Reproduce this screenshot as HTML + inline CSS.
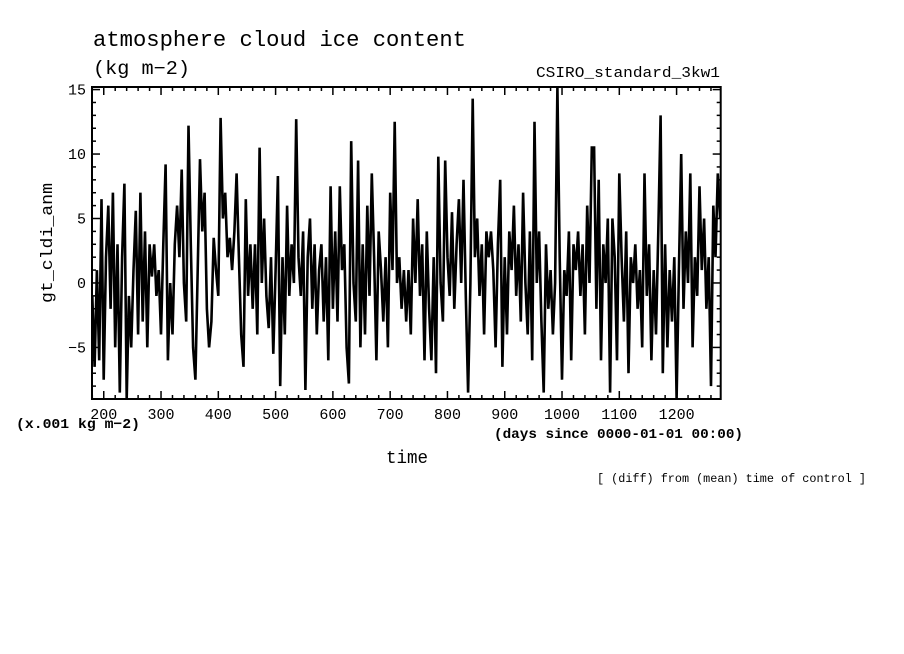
<!DOCTYPE html>
<html><head><meta charset="utf-8"><style>
html,body{margin:0;padding:0;background:#fff;}
svg{display:block;font-family:"Liberation Mono",monospace;}
</style></head><body>
<svg id="chart" width="904" height="654" viewBox="0 0 904 654" xmlns="http://www.w3.org/2000/svg">
<rect width="904" height="654" fill="#fff"/>
<text x="93" y="46" font-size="22" fill="#000" textLength="373" lengthAdjust="spacingAndGlyphs">atmosphere cloud ice content</text>
<text x="93" y="74" font-size="19" fill="#000" textLength="97" lengthAdjust="spacingAndGlyphs">(kg m−2)</text>
<text x="536" y="77" font-size="15" fill="#000" textLength="184" lengthAdjust="spacingAndGlyphs">CSIRO_standard_3kw1</text>
<text transform="translate(52,303) rotate(-90)" font-size="17" fill="#000" textLength="120" lengthAdjust="spacingAndGlyphs">gt_cldi_anm</text>
<text x="16" y="428" font-size="14" font-weight="bold" fill="#000" textLength="124" lengthAdjust="spacingAndGlyphs">(x.001 kg m−2)</text>
<text x="494" y="438" font-size="14" font-weight="bold" fill="#000" textLength="249" lengthAdjust="spacingAndGlyphs">(days since 0000-01-01 00:00)</text>
<text x="386" y="463" font-size="18" fill="#000" textLength="42" lengthAdjust="spacingAndGlyphs">time</text>
<text x="597" y="482" font-size="12" fill="#000" textLength="269" lengthAdjust="spacingAndGlyphs">[ (diff) from (mean) time of control ]</text>
<g id="ticks"></g>
<path id="series" fill="none" stroke="#000" stroke-width="2.6" stroke-linejoin="miter"/>
<rect x="92" y="87" width="628.7" height="312" fill="none" stroke="#000" stroke-width="2"/>
</svg>
<script>
const dayStart = 180;
const dayStep = 4;
const values = [-1,-6.5,1,-6,6.5,-7.5,2,6,-2,7,-5,3,-8.5,2,7.7,-9,-1,-5,1,5.6,-4,7,-3,4,-5,3,0.5,3,-1,1,
-4,3,9.2,-6,0,-4,3,6,2,8.8,0,-3,12.2,3,-5,-7.5,1,9.6,4,7,-2,-5,-3,3.5,1,-1,12.8,5,7,2,
3.5,1,4,8.5,2,-4,-6.5,6.5,-1,3,-2,3,-4,10.5,0,5,-1,-3.5,2,-5.5,1,8.3,-8,2,-4,6,-1,3,0,12.7,
2,-1,4,-8.3,2,5,-2,3,-4,1,3,-3,2,-6,7.5,-2,4,-3,7.5,1,3,-5,-7.8,11,0,-3,9.5,-5,3,-4,
6,-1,8.5,2,-6,4,1,-3,2,-5,7,1,12.5,0,2,-2,1,-3,1,-4,5,0,6.5,-1,3,-6,4,-2,-6,2,
-7,9.8,0,-3,9.5,2,-1,5.5,-2,3,6.5,0,8,-1,-8.5,0,14.3,2,5,-1,3,-4,4,2,4,1,-5,3,8,-6.5,
2,-4,4,1,6,-1,3,-3,7,0,-4,4,-6,12.5,0,4,-3,-8.5,3,-2,1,-4,0,15.2,2,-7.5,1,-1,4,-6,
3,1,4,-1,3,-4,6,0,10.5,10.5,-2,8,-6,3,0,5,-8.5,5,2,-6,8.5,2,-3,4,-7,2,0,3,-2,1,
-5,8.5,-1,3,-6,1,-4,4,13,-7,3,-5,1,-3,2,-9,1,10,-2,4,0,8.5,-5,2,-1,7.5,1,5,-2,2,
-8,6,2,8.5,5];
const yTickValues = [-5,0,5,10,15];
const yTickLabels = ["−5","0","5","10","15"];
const xTickValues = [200,300,400,500,600,700,800,900,1000,1100,1200];
const xTickLabels = ["200","300","400","500","600","700","800","900","1000","1100","1200"];

const X0=92, X1=720.7, Y0=87, Y1=399;
const xMin=179.5, xMax=1277, yMin=-9.0, yMax=15.2;
function xs(d){return X0+(d-xMin)/(xMax-xMin)*(X1-X0);}
function ys(v){return Y1-(v-yMin)/(yMax-yMin)*(Y1-Y0);}
const NS="http://www.w3.org/2000/svg";
let d="";
values.forEach((v,i)=>{
  let yy=Math.max(Y0,Math.min(Y1,ys(v)));
  d+=(i?"L":"M")+xs(dayStart+i*dayStep).toFixed(1)+","+yy.toFixed(1);
});
document.getElementById("series").setAttribute("d",d);
const g=document.getElementById("ticks");
function line(x1,y1,x2,y2){const l=document.createElementNS(NS,"line");l.setAttribute("x1",x1);l.setAttribute("y1",y1);l.setAttribute("x2",x2);l.setAttribute("y2",y2);l.setAttribute("stroke","#000");l.setAttribute("stroke-width","1.5");


g.appendChild(l);}
function txt(x,y,s,anchor,name){const t=document.createElementNS(NS,"text");t.setAttribute("x",x);t.setAttribute("y",y);t.setAttribute("font-size","15");t.setAttribute("text-anchor",anchor);t.textContent=s;


g.appendChild(t);}
for(let v=-9;v<=15;v++){const y=ys(v);const L=(v%5===0)?8:4;line(X0,y,X0+L,y);line(X1,y,X1-L,y);}
yTickValues.forEach((v,i)=>txt(X0-6,ys(v)+5,yTickLabels[i],"end","y-tick-label"));
for(let dd=180;dd<=1276;dd+=20){const x=xs(dd);const L=(dd%100===0)?8:4;line(x,Y0,x,Y0+L);line(x,Y1,x,Y1-L);}
xTickValues.forEach((v,i)=>txt(xs(v),Y1+20,xTickLabels[i],"middle","x-tick-label"));
</script>
</body></html>
